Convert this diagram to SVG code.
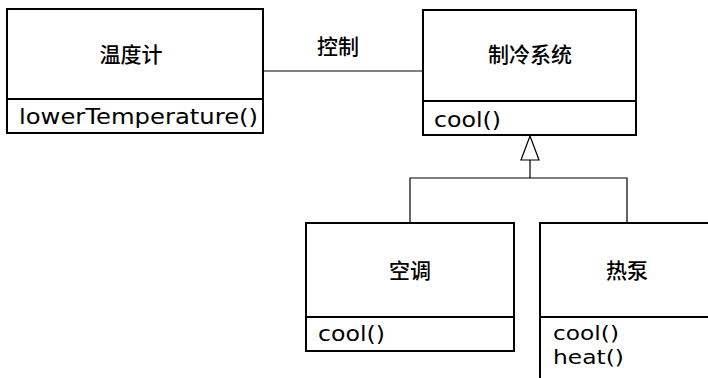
<svg xmlns="http://www.w3.org/2000/svg" width="708" height="378" viewBox="0 0 708 378">
<style>
.box{fill:#fff;stroke:#000;stroke-width:2}
.div{stroke:#000;stroke-width:2}
.conn{stroke:#000;stroke-width:1.2;fill:none}
.cn{font-family:"Noto Sans CJK SC","Noto Sans",sans-serif;font-size:21px;font-weight:500;text-anchor:middle;fill:#000}
.op{font-family:"DejaVu Sans",Verdana,sans-serif;font-size:21px;font-weight:500;fill:#000}
.op2{font-family:"DejaVu Sans",Verdana,sans-serif;font-size:19px;font-weight:500;fill:#000}
</style>
<rect width="708" height="378" fill="#fff"/>
<g id="connectors">
<line class="conn" x1="263" y1="71" x2="423" y2="71"/>
<text class="cn" x="338" y="54">控制</text>
<polyline class="conn" points="410,223 410,178 627,178 627,223"/>
<line class="conn" x1="530" y1="178" x2="530" y2="160"/>
<polygon points="530,136 521,160 539,160" fill="#fff" stroke="#000" stroke-width="1.2"/>
</g>
<g id="thermometer">
<rect class="box" x="7" y="9" width="256" height="124"/>
<line class="div" x1="7" y1="99" x2="263" y2="99"/>
<text class="cn" x="131" y="62">温度计</text>
<text class="op" x="19" y="124" textLength="239" lengthAdjust="spacingAndGlyphs">lowerTemperature()</text>
</g>
<g id="cooling-system">
<rect class="box" x="423" y="10" width="213" height="125"/>
<line class="div" x1="423" y1="101" x2="636" y2="101"/>
<text class="cn" x="530" y="62">制冷系统</text>
<text class="op" x="434" y="127" textLength="67" lengthAdjust="spacingAndGlyphs">cool()</text>
</g>
<g id="air-conditioner">
<rect class="box" x="306" y="223" width="208" height="128"/>
<line class="div" x1="306" y1="317" x2="514" y2="317"/>
<text class="cn" x="410" y="278">空调</text>
<text class="op" x="318" y="341" textLength="67" lengthAdjust="spacingAndGlyphs">cool()</text>
</g>
<g id="heat-pump">
<rect class="box" x="540" y="223" width="190" height="180"/>
<line class="div" x1="540" y1="317" x2="730" y2="317"/>
<text class="cn" x="627" y="278">热泵</text>
<text class="op2" x="553" y="340" textLength="66" lengthAdjust="spacingAndGlyphs">cool()</text>
<text class="op2" x="553" y="364" textLength="71" lengthAdjust="spacingAndGlyphs">heat()</text>
</g>
</svg>
